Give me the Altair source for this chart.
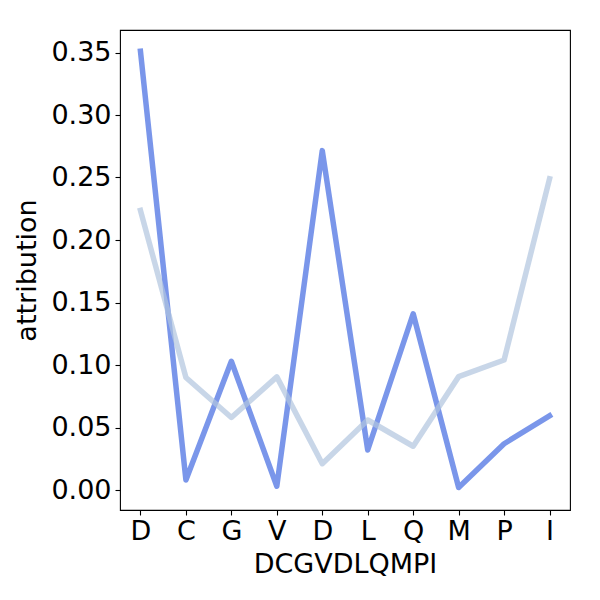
import altair as alt
import pandas as pd

residues = ["D", "C", "G", "V", "D", "L", "Q", "M", "P", "I"]
attr_dark = [0.351, 0.008, 0.103, 0.003, 0.2715, 0.032, 0.141, 0.002, 0.037, 0.0594]
attr_light = [0.2237, 0.090, 0.058, 0.0905, 0.021, 0.056, 0.035, 0.0907, 0.104, 0.249]

idx = list(range(len(residues)))
df_dark = pd.DataFrame({"pos": idx, "attribution": attr_dark})
df_light = pd.DataFrame({"pos": idx, "attribution": attr_light})

label_js = "[" + ",".join("'%s'" % r for r in residues) + "][datum.value]"

FONT = "DejaVu Sans"
FS = 27

x_enc = alt.X(
    "pos:Q",
    scale=alt.Scale(domain=[-0.45, 9.45], nice=False, zero=False),
    axis=alt.Axis(
        values=idx,
        labelExpr=label_js,
        title="".join(residues),
        grid=False,
        tickSize=5,
        tickWidth=1.1,
        tickColor="black",
        labelPadding=3,
        labelFontSize=FS,
        labelColor="black",
        labelFont=FONT,
        titleFont=FONT,
        titleFontSize=FS,
        titleFontWeight="normal",
        titleColor="black",
        titlePadding=7,
        domain=False,
    ),
)
y_enc = alt.Y(
    "attribution:Q",
    scale=alt.Scale(domain=[-0.016, 0.368], nice=False, zero=False),
    axis=alt.Axis(
        values=[0, 0.05, 0.1, 0.15, 0.2, 0.25, 0.3, 0.35],
        format=".2f",
        title="attribution",
        grid=False,
        tickSize=5,
        tickWidth=1.1,
        tickColor="black",
        labelPadding=4,
        labelFontSize=FS,
        labelColor="black",
        labelFont=FONT,
        titleFont=FONT,
        titleFontSize=FS,
        titleFontWeight="normal",
        titleColor="black",
        titlePadding=9,
        domain=False,
    ),
)

dark = alt.Chart(df_dark).mark_line(
    color="#4169e1", opacity=0.7, strokeWidth=5.5, strokeCap="square", strokeJoin="round"
).encode(x=x_enc, y=y_enc)

light = alt.Chart(df_light).mark_line(
    color="#b0c4de", opacity=0.7, strokeWidth=5.5, strokeCap="square", strokeJoin="round"
).encode(x=x_enc, y=y_enc)

chart = (
    alt.layer(dark, light)
    .properties(
        width=450,
        height=480,
        autosize=alt.AutoSizeParams(type="none"),
        padding={"left": 112, "top": 22, "right": 22, "bottom": 82},
        background="white",
    )
    .configure_view(stroke="black", strokeWidth=1.1)
)

chart.save("out.html", embed_options={"renderer": "svg", "actions": False})
